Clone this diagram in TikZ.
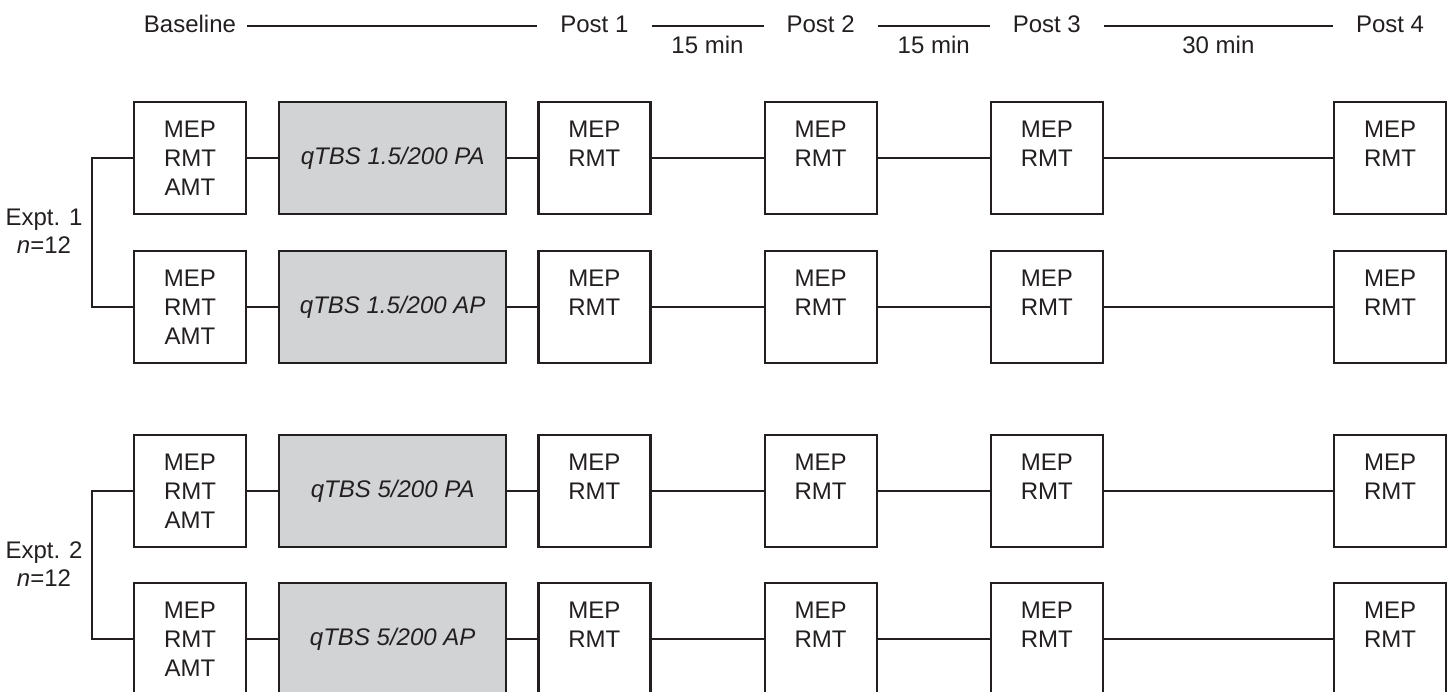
\documentclass[tikz,border=0pt]{standalone}
\usepackage{fontspec}
\setmainfont{Liberation Sans}
\usetikzlibrary{calc,positioning}
\definecolor{myInk}{RGB}{35,31,32}
\definecolor{myShade}{RGB}{209,211,212}
\tikzset{
myMeasure/.style={
	rectangle,draw=myInk,fill=white,line width=2.2pt,
	inner sep=0pt,minimum width=112pt,minimum height=112pt,
	align=center,text=myInk,font=\fontsize{24}{29}\selectfont
}
, myStim/.style={
	myMeasure,fill=myShade,minimum width=227pt,
	font=\fontsize{24}{29}\selectfont\itshape
}
, myTime/.style={
	anchor=base,inner sep=0pt,text=myInk,
	font=\fontsize{24}{29}\selectfont
}
, myExpt/.style={
	inner sep=0pt,align=center,text=myInk,
	font=\fontsize{24}{28}\selectfont
}
% link
, myLink/.style={draw=myInk,line width=2pt}
}

\begin{document}
\begin{tikzpicture}[x=1pt,y=-1pt]
	\useasboundingbox (0,0) rectangle (1450,692);
	\clip (0,0) rectangle (1450,692);
	% Expt. 1
	\node[myMeasure] (aBase) at (190,158) {MEP\\RMT\\AMT};
	\node[myStim, right=31pt of aBase] (aStim) {qTBS 1.5/200 PA};
	\node[myMeasure, right=30pt of aStim] (aP1) {MEP\\RMT\\\mbox{}};
	\node[myMeasure, right=112pt of aP1] (aP2) {MEP\\RMT\\\mbox{}};
	\node[myMeasure, right=112pt of aP2] (aP3) {MEP\\RMT\\\mbox{}};
	\node[myMeasure, right=229pt of aP3] (aP4) {MEP\\RMT\\\mbox{}};

	\node[myMeasure] (bBase) at (190,307) {MEP\\RMT\\AMT};
	\node[myStim, right=31pt of bBase] (bStim) {qTBS 1.5/200 AP};
	\node[myMeasure, right=30pt of bStim] (bP1) {MEP\\RMT\\\mbox{}};
	\node[myMeasure, right=112pt of bP1] (bP2) {MEP\\RMT\\\mbox{}};
	\node[myMeasure, right=112pt of bP2] (bP3) {MEP\\RMT\\\mbox{}};
	\node[myMeasure, right=229pt of bP3] (bP4) {MEP\\RMT\\\mbox{}};

	% Expt. 2
	\node[myMeasure] (cBase) at (190,491) {MEP\\RMT\\AMT};
	\node[myStim, right=31pt of cBase] (cStim) {qTBS 5/200 PA};
	\node[myMeasure, right=30pt of cStim] (cP1) {MEP\\RMT\\\mbox{}};
	\node[myMeasure, right=112pt of cP1] (cP2) {MEP\\RMT\\\mbox{}};
	\node[myMeasure, right=112pt of cP2] (cP3) {MEP\\RMT\\\mbox{}};
	\node[myMeasure, right=229pt of cP3] (cP4) {MEP\\RMT\\\mbox{}};

	\node[myMeasure] (dBase) at (190,639) {MEP\\RMT\\AMT};
	\node[myStim, right=31pt of dBase] (dStim) {qTBS 5/200 AP};
	\node[myMeasure, right=30pt of dStim] (dP1) {MEP\\RMT\\\mbox{}};
	\node[myMeasure, right=112pt of dP1] (dP2) {MEP\\RMT\\\mbox{}};
	\node[myMeasure, right=112pt of dP2] (dP3) {MEP\\RMT\\\mbox{}};
	\node[myMeasure, right=229pt of dP3] (dP4) {MEP\\RMT\\\mbox{}};

	% links
	\draw[myLink] (aBase) -- (aStim) (aStim) -- (aP1) (aP1) -- (aP2) (aP2) -- (aP3) (aP3) -- (aP4);
	\draw[myLink] (bBase) -- (bStim) (bStim) -- (bP1) (bP1) -- (bP2) (bP2) -- (bP3) (bP3) -- (bP4);
	\draw[myLink] (cBase) -- (cStim) (cStim) -- (cP1) (cP1) -- (cP2) (cP2) -- (cP3) (cP3) -- (cP4);
	\draw[myLink] (dBase) -- (dStim) (dStim) -- (dP1) (dP1) -- (dP2) (dP2) -- (dP3) (dP3) -- (dP4);

	% brackets
	\coordinate (brace) at (92,0);
	\draw[myLink] (aBase.west) -- (aBase.west -| brace) -- (bBase.west -| brace) -- (bBase.west);
	\draw[myLink] (cBase.west) -- (cBase.west -| brace) -- (dBase.west -| brace) -- (dBase.west);
	\node[myExpt] (exptOne) at (44,231) {Expt. 1\\\textit{n}=12};
	\node[myExpt] (exptTwo) at (44,564) {Expt. 2\\\textit{n}=12};

	% time line
	\coordinate (hdrText) at (0,33);
	\coordinate (hdrLine) at (0,26);
	\coordinate (hdrGap) at (0,54);
	\node[myTime] (tBase) at (aBase |- hdrText) {Baseline};
	\node[myTime] (tP1) at (aP1 |- hdrText) {Post 1};
	\node[myTime] (tP2) at (aP2 |- hdrText) {Post 2};
	\node[myTime] (tP3) at (aP3 |- hdrText) {Post 3};
	\node[myTime] (tP4) at (aP4 |- hdrText) {Post 4};
	\draw[myLink] (aBase.east |- hdrLine) -- (aP1.west |- hdrLine);
	\draw[myLink] (aP1.east |- hdrLine) -- (aP2.west |- hdrLine);
	\draw[myLink] (aP2.east |- hdrLine) -- (aP3.west |- hdrLine);
	\draw[myLink] (aP3.east |- hdrLine) -- (aP4.west |- hdrLine);
	\node[myTime] (gapOne) at ($(aP1.east |- hdrGap)!0.5!(aP2.west |- hdrGap)$) {15 min};
	\node[myTime] (gapTwo) at ($(aP2.east |- hdrGap)!0.5!(aP3.west |- hdrGap)$) {15 min};
	\node[myTime] (gapThree) at ($(aP3.east |- hdrGap)!0.5!(aP4.west |- hdrGap)$) {30 min};
\end{tikzpicture}
\end{document}
